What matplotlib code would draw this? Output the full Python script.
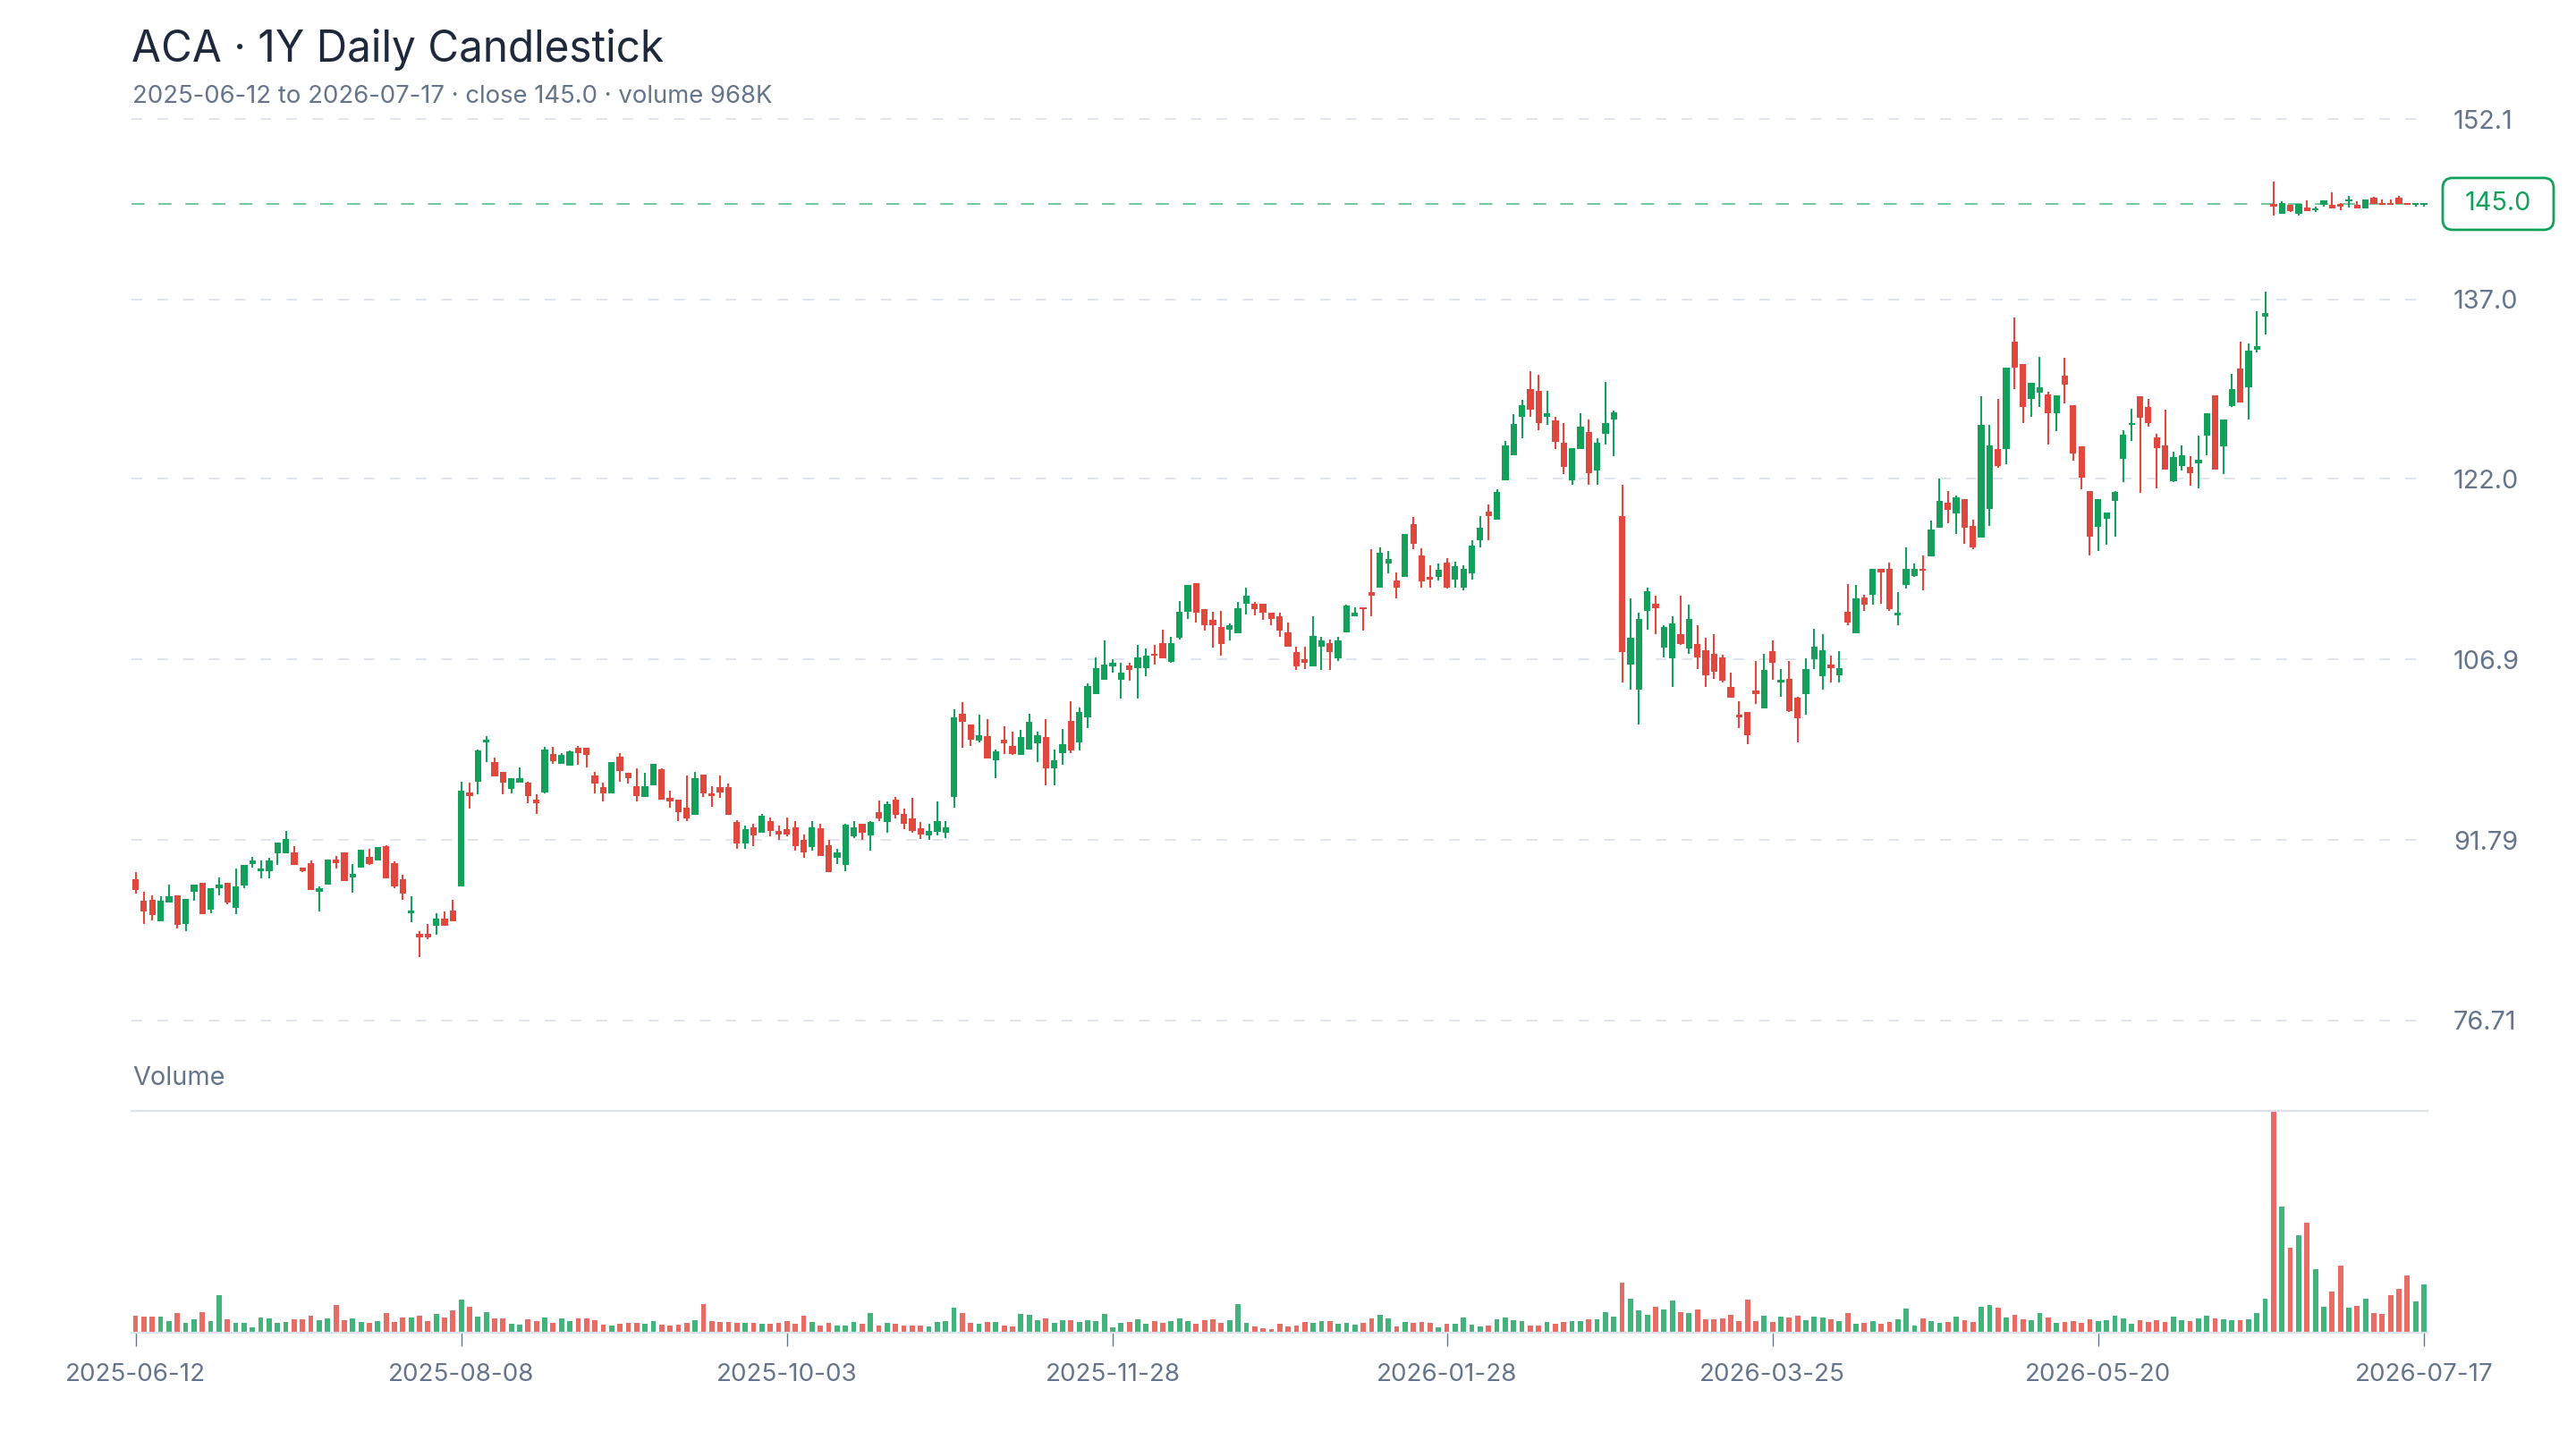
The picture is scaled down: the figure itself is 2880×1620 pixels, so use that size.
import matplotlib
matplotlib.use('Agg')
import matplotlib.pyplot as plt
from matplotlib.patches import FancyBboxPatch
from matplotlib.transforms import IdentityTransform
import numpy as np
import pandas as pd

plt.rcParams['font.family'] = ['Inter', 'DejaVu Sans']

# NYSE holidays inside the range, so the bar count matches the trading calendar
holidays = ['2025-06-19', '2025-07-04', '2025-09-01', '2025-11-27', '2025-12-25',
            '2026-01-01', '2026-01-19', '2026-02-16', '2026-04-03', '2026-05-25',
            '2026-06-19', '2026-07-03']
dates = pd.bdate_range('2025-06-12', '2026-07-17', freq='C', holidays=holidays)

tick_dates = ['2025-06-12', '2025-08-08', '2025-10-03', '2025-11-28',
              '2026-01-28', '2026-03-25', '2026-05-20', '2026-07-17']
price_ticks = [76.71, 91.79, 106.9, 122.0, 137.0, 152.1]
price_tick_labels = ['76.71', '91.79', '106.9', '122.0', '137.0', '152.1']

opens = [88.5, 86.7, 86.8, 85.0, 86.6, 87.2, 84.8, 87.5, 88.2, 86.0,
         87.8, 88.2, 86.1, 88.0, 89.8, 89.2, 89.2, 90.7, 90.7, 90.8,
         89.5, 89.9, 87.5, 88.1, 90.2, 90.8, 88.7, 89.5, 90.4, 90.1,
         91.3, 89.9, 88.5, 85.7, 84.0, 84.0, 84.6, 85.2, 85.9, 87.9,
         95.8, 96.7, 100.0, 98.3, 97.5, 96.1, 96.6, 96.6, 95.2, 95.8,
         99.0, 98.2, 98.0, 99.5, 99.5, 97.2, 96.2, 95.7, 98.8, 97.4,
         96.3, 95.4, 96.4, 97.7, 95.3, 95.2, 94.5, 93.9, 97.3, 95.7,
         96.2, 96.2, 93.3, 91.5, 92.9, 92.4, 93.4, 92.6, 92.7, 92.9,
         91.8, 91.2, 92.8, 91.4, 90.3, 89.7, 92.1, 93.2, 92.2, 94.1,
         93.3, 95.2, 94.0, 93.6, 92.8, 92.2, 92.5, 92.4, 95.4, 102.4,
         101.5, 100.1, 100.5, 98.5, 100.2, 99.7, 98.9, 99.4, 99.9, 100.4,
         97.8, 99.1, 101.8, 100.0, 102.1, 104.0, 105.2, 106.3, 105.2, 106.4,
         106.2, 106.2, 107.4, 108.3, 106.7, 108.7, 110.9, 113.3, 111.1, 110.2,
         109.6, 109.4, 109.1, 111.6, 111.6, 111.6, 110.8, 110.5, 109.2, 107.5,
         106.9, 106.3, 108.0, 108.3, 107.0, 109.2, 110.5, 111.3, 112.5, 112.9,
         114.9, 113.5, 113.8, 118.2, 115.6, 113.8, 113.8, 115.0, 113.6, 112.9,
         114.1, 116.9, 119.3, 118.6, 121.9, 124.0, 127.2, 129.5, 129.4, 127.2,
         126.9, 125.0, 121.9, 124.5, 125.9, 122.7, 125.8, 127.0, 118.9, 106.5,
         104.4, 111.0, 111.6, 107.9, 107.0, 109.0, 107.8, 108.2, 107.7, 107.4,
         107.1, 104.6, 102.3, 102.5, 104.3, 102.8, 107.6, 105.0, 105.3, 103.7,
         104.0, 106.9, 105.5, 106.5, 105.6, 110.9, 109.1, 112.1, 112.3, 114.5,
         114.5, 110.6, 113.1, 113.9, 114.5, 115.5, 117.9, 120.0, 119.1, 120.3,
         118.1, 117.1, 119.5, 124.5, 124.5, 133.5, 131.6, 128.7, 129.2, 129.1,
         127.5, 130.6, 128.2, 124.7, 121.0, 118.0, 118.7, 120.2, 123.7, 126.5,
         128.9, 128.0, 125.5, 124.8, 121.8, 123.1, 123.0, 123.3, 125.6, 129.0,
         124.7, 128.1, 131.2, 129.7, 132.8, 135.6, 145.0, 144.2, 144.9, 144.2,
         144.7, 144.5, 144.9, 144.9, 145.0, 145.2, 144.9, 144.6, 145.5, 145.0,
         145.0, 145.5, 145.0, 144.9, 144.9]
highs = [89.1, 87.5, 87.2, 87.1, 88.1, 87.2, 86.9, 88.1, 88.2, 87.8,
         88.7, 88.2, 89.4, 89.7, 90.4, 90.1, 90.3, 91.6, 92.6, 91.3,
         89.5, 90.1, 87.9, 90.2, 90.5, 90.8, 89.8, 91.0, 91.1, 91.2,
         91.4, 90.0, 88.9, 87.1, 84.2, 84.8, 85.7, 85.8, 86.8, 96.7,
         96.6, 99.4, 100.5, 98.7, 97.5, 97.0, 97.9, 96.7, 95.6, 99.6,
         99.6, 99.1, 99.3, 99.7, 99.5, 97.5, 96.6, 98.3, 99.1, 97.4,
         97.8, 97.4, 98.2, 97.8, 95.9, 95.2, 97.2, 97.5, 97.3, 96.3,
         97.2, 96.5, 93.5, 93.0, 93.2, 94.0, 93.7, 93.0, 93.7, 93.4,
         92.3, 93.4, 93.2, 91.8, 91.1, 93.2, 93.4, 93.2, 93.4, 95.1,
         95.0, 95.4, 94.4, 95.3, 93.3, 93.2, 95.0, 93.4, 102.7, 103.3,
         101.5, 102.3, 101.9, 99.4, 101.3, 100.9, 101.0, 102.4, 100.9, 101.9,
         99.4, 101.1, 103.4, 102.9, 104.9, 107.1, 108.5, 106.9, 106.6, 106.6,
         108.1, 107.8, 108.1, 109.4, 108.8, 111.8, 113.1, 113.3, 111.1, 110.9,
         111.0, 109.9, 111.7, 112.9, 111.7, 111.6, 110.8, 110.8, 110.0, 108.0,
         108.0, 110.5, 108.8, 108.6, 108.8, 111.5, 111.3, 111.3, 116.1, 116.3,
         116.0, 114.2, 117.4, 118.8, 116.2, 114.8, 114.9, 115.4, 115.1, 114.8,
         116.9, 118.9, 119.9, 121.1, 125.2, 127.4, 128.6, 131.0, 130.7, 129.4,
         127.2, 126.7, 124.6, 127.5, 127.0, 125.4, 130.1, 127.7, 121.5, 112.0,
         110.8, 112.9, 112.2, 109.8, 110.5, 112.2, 111.5, 109.8, 108.7, 109.0,
         107.3, 105.8, 103.4, 102.5, 106.8, 107.4, 108.5, 106.1, 106.8, 103.8,
         107.0, 109.5, 109.0, 107.2, 107.6, 113.2, 113.1, 112.3, 114.5, 114.5,
         115.0, 112.5, 116.3, 114.9, 115.6, 118.5, 122.0, 121.0, 120.6, 120.3,
         118.6, 128.9, 126.5, 128.7, 131.3, 135.5, 131.6, 130.0, 132.2, 129.3,
         129.0, 132.1, 128.2, 124.7, 121.0, 120.3, 119.2, 121.0, 126.1, 127.9,
         128.9, 128.7, 125.8, 127.8, 124.3, 124.8, 123.9, 125.6, 127.5, 129.0,
         127.0, 130.8, 133.5, 133.3, 136.0, 137.7, 146.9, 145.2, 144.9, 145.0,
         145.3, 144.8, 145.3, 146.0, 145.1, 145.7, 145.2, 145.4, 145.6, 145.4,
         145.4, 145.7, 145.1, 145.0, 145.1]
lows = [87.3, 84.8, 85.1, 85.0, 86.6, 84.4, 84.2, 86.7, 85.6, 85.7,
        87.2, 86.4, 85.6, 87.8, 89.5, 88.6, 88.6, 89.7, 90.7, 89.7,
        89.1, 87.6, 85.8, 88.1, 89.4, 88.4, 87.4, 89.5, 89.7, 90.1,
        88.6, 87.8, 86.8, 84.9, 82.0, 83.5, 83.9, 84.6, 85.0, 87.9,
        94.4, 95.6, 98.3, 97.1, 95.6, 95.7, 96.6, 94.9, 94.0, 95.7,
        98.2, 98.2, 98.0, 98.1, 97.9, 95.7, 95.0, 95.7, 96.7, 96.5,
        95.0, 95.4, 96.4, 95.2, 94.5, 93.4, 93.4, 93.9, 95.4, 94.6,
        95.3, 93.9, 91.1, 91.1, 91.3, 92.4, 92.1, 91.8, 92.1, 90.9,
        90.3, 90.9, 90.5, 89.1, 89.8, 89.2, 92.0, 91.8, 90.9, 93.4,
        92.4, 93.6, 92.7, 92.4, 91.9, 91.8, 92.2, 92.0, 94.5, 99.5,
        99.7, 100.0, 98.6, 97.0, 99.0, 98.9, 98.9, 99.4, 98.3, 96.4,
        96.4, 98.1, 99.1, 99.3, 101.2, 104.0, 105.2, 105.8, 103.6, 105.1,
        103.6, 105.5, 106.5, 107.0, 106.6, 108.6, 110.3, 110.0, 109.3, 107.9,
        107.2, 108.5, 109.1, 110.7, 110.6, 110.2, 109.8, 108.8, 108.0, 106.0,
        106.1, 106.3, 106.0, 106.0, 106.8, 109.2, 110.5, 109.3, 110.5, 112.9,
        114.1, 112.0, 113.8, 116.1, 112.9, 112.9, 113.5, 112.8, 112.9, 112.7,
        113.6, 116.3, 116.9, 118.6, 121.9, 124.0, 125.4, 127.2, 126.1, 126.5,
        124.5, 122.4, 121.5, 124.5, 121.5, 121.5, 124.9, 123.9, 105.0, 104.4,
        101.5, 109.4, 109.0, 107.1, 104.6, 108.1, 107.4, 106.1, 104.6, 105.3,
        105.0, 103.7, 101.2, 99.8, 103.2, 102.8, 105.2, 103.8, 102.5, 100.0,
        102.3, 106.1, 104.4, 105.0, 105.0, 109.8, 109.1, 111.0, 111.5, 111.6,
        111.0, 109.8, 112.8, 113.8, 112.7, 115.5, 117.9, 118.3, 117.4, 116.6,
        116.1, 117.1, 118.1, 122.9, 123.2, 129.5, 126.7, 127.2, 128.0, 124.9,
        126.0, 128.3, 123.5, 121.1, 115.6, 116.0, 116.5, 117.2, 121.7, 125.2,
        120.8, 126.4, 121.2, 122.8, 121.7, 122.7, 121.4, 121.2, 124.0, 122.8,
        122.4, 128.0, 128.4, 127.0, 132.6, 134.1, 144.0, 144.2, 144.3, 144.0,
        144.4, 144.3, 144.8, 144.6, 144.5, 144.7, 144.6, 144.6, 145.0, 144.9,
        144.9, 145.0, 144.9, 144.8, 144.8]
closes = [87.6, 85.8, 85.5, 86.7, 87.1, 84.7, 86.9, 88.1, 85.6, 87.8,
          88.1, 86.6, 87.9, 89.7, 90.1, 89.4, 90.1, 91.6, 91.9, 89.7,
          89.2, 87.6, 87.8, 90.2, 89.9, 88.4, 89.0, 91.0, 89.8, 91.2,
          88.6, 87.9, 87.3, 85.9, 83.7, 83.7, 85.2, 84.6, 85.0, 95.9,
          95.5, 99.3, 100.2, 97.1, 96.6, 97.0, 97.0, 95.5, 94.9, 99.4,
          98.4, 98.9, 99.2, 99.1, 98.9, 96.5, 95.7, 98.3, 97.6, 97.0,
          95.5, 96.3, 98.2, 95.2, 95.0, 94.1, 93.6, 97.0, 95.7, 95.5,
          95.8, 93.9, 91.5, 92.7, 92.2, 93.8, 92.6, 92.3, 92.3, 91.3,
          90.8, 92.9, 90.5, 89.1, 90.8, 93.1, 92.9, 92.4, 93.3, 93.6,
          94.8, 93.9, 93.2, 92.6, 92.3, 92.6, 93.4, 92.9, 102.1, 101.7,
          100.2, 100.6, 98.6, 99.2, 99.9, 99.0, 100.4, 101.7, 100.6, 97.8,
          98.5, 99.8, 99.3, 102.5, 104.7, 106.2, 106.5, 106.6, 105.8, 106.0,
          107.1, 107.2, 107.2, 107.0, 108.3, 110.9, 113.1, 110.8, 109.8, 109.8,
          108.2, 109.8, 111.2, 112.2, 111.1, 110.8, 110.3, 109.3, 108.0, 106.3,
          106.6, 108.9, 108.5, 107.5, 108.5, 111.4, 110.8, 111.1, 112.2, 115.8,
          115.3, 112.9, 117.4, 116.6, 113.4, 113.6, 114.4, 112.9, 114.7, 114.5,
          116.4, 117.9, 118.9, 120.9, 124.8, 126.6, 128.2, 127.8, 126.7, 127.5,
          125.1, 123.0, 124.6, 126.4, 122.5, 125.0, 126.7, 127.6, 107.5, 108.7,
          110.3, 112.6, 111.2, 109.6, 109.9, 108.2, 110.3, 107.1, 105.6, 105.9,
          105.1, 103.7, 102.1, 100.6, 104.0, 106.0, 106.6, 105.2, 102.6, 102.0,
          106.1, 108.0, 107.7, 106.2, 106.2, 110.0, 112.0, 111.5, 114.5, 114.2,
          111.1, 110.8, 114.5, 114.5, 114.3, 117.8, 120.2, 119.4, 120.5, 117.9,
          116.3, 126.5, 124.8, 123.1, 131.3, 131.3, 128.0, 130.0, 129.7, 127.5,
          129.0, 129.9, 124.1, 122.1, 117.2, 120.3, 119.2, 120.9, 125.7, 126.7,
          127.1, 126.7, 124.6, 122.8, 123.8, 124.0, 122.5, 123.6, 127.5, 122.8,
          127.0, 129.5, 128.4, 132.7, 133.1, 135.9, 144.8, 145.1, 144.4, 145.0,
          144.4, 144.6, 145.3, 144.6, 144.8, 145.4, 144.6, 145.4, 145.0, 144.9,
          144.9, 145.0, 144.9, 145.0, 145.0]
# volume in thousands of shares
volume_k = [341, 317, 329, 317, 239, 388, 197, 269, 406, 227,
            759, 275, 203, 203, 114, 305, 287, 197, 209, 263,
            263, 341, 245, 287, 550, 257, 293, 221, 203, 233,
            400, 221, 305, 299, 347, 227, 376, 305, 454, 657,
            520, 323, 412, 287, 287, 179, 155, 263, 239, 311,
            197, 281, 227, 287, 293, 245, 161, 137, 185, 203,
            197, 179, 239, 167, 137, 167, 203, 251, 580, 233,
            221, 221, 197, 191, 203, 179, 173, 191, 233, 173,
            341, 215, 137, 191, 137, 149, 209, 185, 388, 149,
            191, 179, 137, 137, 137, 131, 209, 239, 508, 400,
            203, 185, 209, 209, 137, 125, 376, 353, 257, 281,
            197, 251, 251, 221, 251, 233, 382, 102, 197, 215,
            269, 185, 227, 203, 227, 287, 227, 185, 245, 275,
            203, 257, 574, 197, 120, 96, 78, 173, 120, 149,
            215, 203, 227, 227, 179, 203, 155, 203, 293, 353,
            287, 131, 209, 191, 215, 203, 108, 185, 185, 311,
            167, 131, 143, 275, 305, 257, 227, 149, 149, 215,
            173, 221, 227, 227, 275, 263, 418, 323, 1004, 681,
            448, 364, 526, 466, 651, 418, 400, 466, 263, 263,
            293, 364, 239, 657, 227, 335, 215, 317, 305, 347,
            257, 317, 305, 269, 233, 388, 179, 203, 233, 185,
            209, 263, 478, 143, 281, 233, 203, 221, 317, 245,
            215, 514, 556, 508, 305, 353, 275, 245, 400, 299,
            203, 215, 227, 197, 263, 227, 245, 335, 287, 173,
            245, 215, 245, 221, 323, 257, 239, 293, 347, 287,
            269, 257, 257, 275, 400, 687, 4451, 2533, 1703, 1954,
            2211, 1273, 526, 825, 1344, 502, 544, 687, 400, 382,
            753, 884, 1147, 633, 968]

UP = '#13a05a'
DOWN = '#e0473d'
INK = '#1e293b'
MUTED = '#64748b'
GRID = '#dde2ec'

o = np.array(opens)
h = np.array(highs)
l = np.array(lows)
c = np.array(closes)
v = np.array(volume_k) * 1000
x = np.arange(len(c))
colors = np.where(c >= o, UP, DOWN)

tick_pos = [dates.get_loc(pd.Timestamp(d)) for d in tick_dates]

fig = plt.figure(figsize=(14.4, 8.1), dpi=200)
ax = fig.add_axes([0.05115, 0.29321, 0.89128, 0.62716])
axv = fig.add_axes([0.05115, 0.08025, 0.89128, 0.15309])

# price panel
ax.vlines(x, l, h, colors=colors, linewidth=0.75, zorder=3)
body = np.maximum(np.abs(c - o), 0.15)
ax.bar(x, body, bottom=np.minimum(o, c), width=0.78, color=colors, linewidth=0, zorder=4)
ax.axhline(c[-1], color=UP, alpha=0.6, linewidth=0.7, linestyle=(0, (7.5, 8)), zorder=2)

ax.set_xlim(-0.45, len(c) - 0.55)
ax.set_ylim(price_ticks[0] - 0.3, price_ticks[-1] + 0.3)
ax.set_yticks(price_ticks)
ax.set_yticklabels(price_tick_labels)
ax.yaxis.tick_right()
ax.tick_params(axis='y', length=0, pad=10.4, labelsize=10.4, labelcolor=MUTED)
ax.set_xticks([])
ax.grid(axis='y', color=GRID, linewidth=0.65, linestyle=(0, (6.5, 9.5)))
ax.set_axisbelow(True)
for s in ax.spines.values():
    s.set_visible(False)

# volume panel
axv.bar(x, v, width=0.62, color=colors, alpha=0.8, linewidth=0)
axv.set_xlim(ax.get_xlim())
axv.set_ylim(0, v.max())
axv.set_yticks([])
axv.set_xticks(tick_pos)
axv.set_xticklabels(tick_dates)
axv.tick_params(axis='x', length=5.4, width=0.5, color=MUTED, pad=7,
                labelsize=10, labelcolor=MUTED)
for side in ['left', 'right']:
    axv.spines[side].set_visible(False)
axv.spines['top'].set_color(GRID)
axv.spines['top'].set_linewidth(0.8)
axv.spines['bottom'].set_color(GRID)
axv.spines['bottom'].set_linewidth(0.8)

# texts
fig.text(147 / 2880, 1 - 69 / 1620, 'ACA · 1Y Daily Candlestick', fontsize=17.2,
         color=INK, va='baseline', ha='left')
fig.text(148 / 2880, 1 - 115 / 1620,
         '2025-06-12 to 2026-07-17 · close 145.0 · volume 968K',
         fontsize=9.9, color=MUTED, va='baseline', ha='left')
fig.text(148 / 2880, 1 - 1213 / 1620, 'Volume', fontsize=10.4, color=MUTED,
         va='baseline', ha='left')

# last price tag on the right
yb = ax.transData.transform((0, c[-1]))[1]
tag = FancyBboxPatch((2731, yb - 29), 124, 58,
                     boxstyle='round,pad=0,rounding_size=11',
                     transform=IdentityTransform(), facecolor='white',
                     edgecolor=UP, linewidth=1.0)
fig.add_artist(tag)
fig.text(2793 / 2880, yb / 1620, f'{c[-1]:.1f}', fontsize=10.4, color=UP,
         ha='center', va='center')

fig.savefig('out.png', dpi=200)
